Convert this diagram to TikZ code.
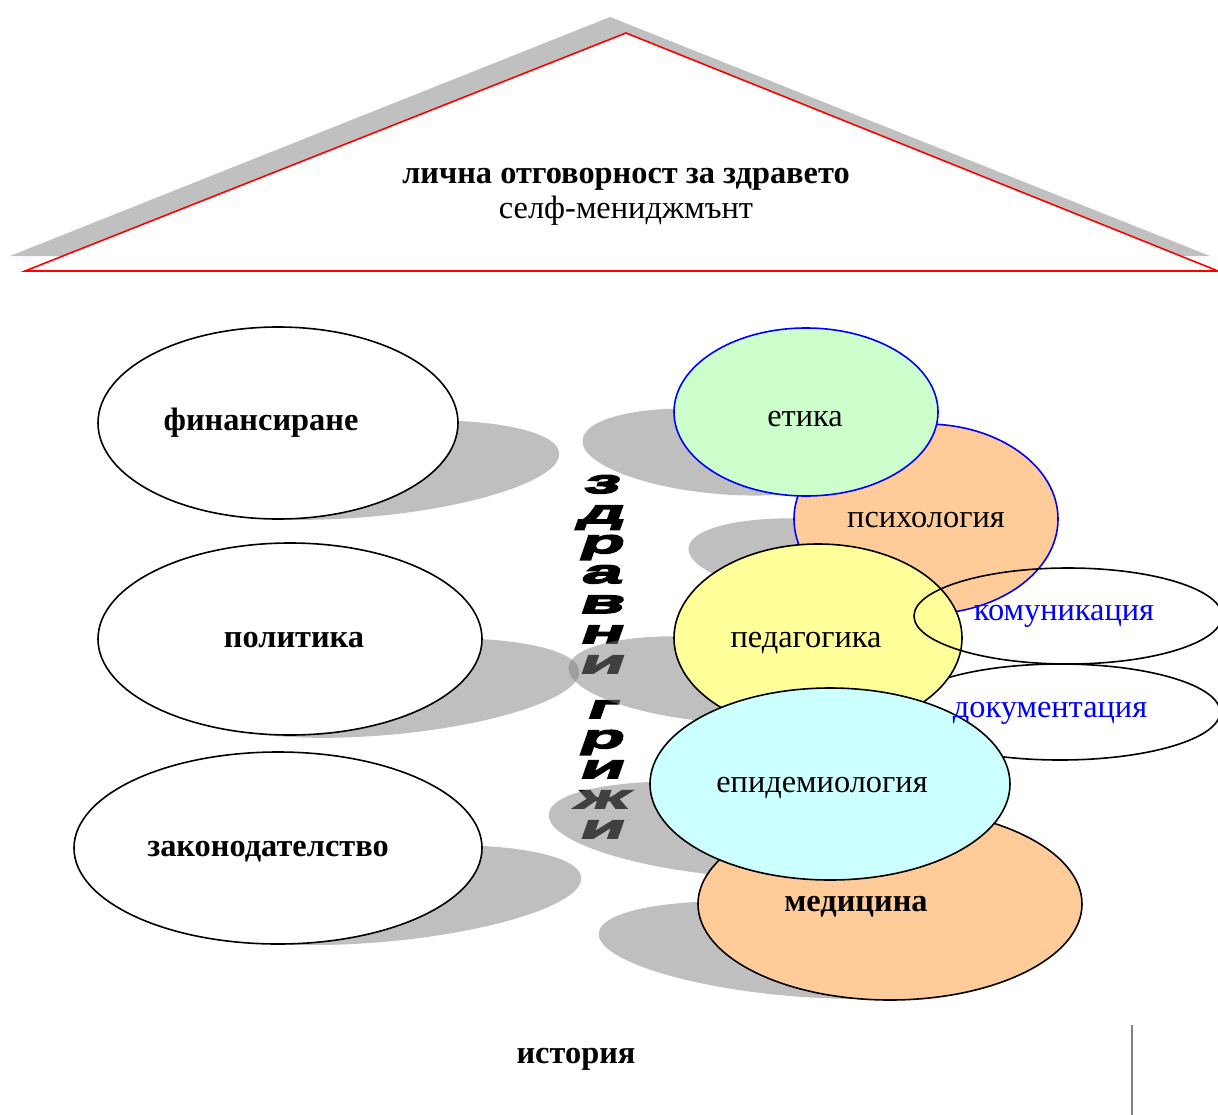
\documentclass[tikz,border=0pt]{standalone}
\usepackage{fontspec}
\setmainfont{Liberation Serif}
\newfontfamily\wordart[FakeStretch=2.2,FakeSlant=0.35,FakeBold=5]{Liberation Sans Bold}
\usetikzlibrary{shapes.geometric}
\definecolor{etikagreen}{HTML}{CCFFCC}
\definecolor{psyorange}{HTML}{FFCC99}
\definecolor{pedyellow}{HTML}{FFFF99}
\definecolor{epicyan}{HTML}{CCFFFF}
\definecolor{roofgray}{HTML}{C0C0C0}

\begin{document}
\begin{tikzpicture}[x=1bp,y=-1bp,
	oval/.style={ellipse,draw,line width=1.6bp,inner sep=0pt},
	shadowoval/.style={ellipse,fill=black!50,fill opacity=0.5,inner sep=0pt},
	lbl/.style={anchor=base,font=\fontsize{32.5}{38}\selectfont},
	blbl/.style={anchor=base,font=\fontsize{32.5}{38}\selectfont\bfseries},
	artchar/.style={anchor=base,inner sep=0pt,font=\wordart\fontsize{33}{33}\selectfont}]
	\useasboundingbox (0,0) rectangle (1218,1115);
	% roof
	\fill[roofgray] (10,256) -- (610,17) -- (1210,256) -- cycle;
	\draw[red,fill=white,line width=1.6bp] (25,271) -- (626,33) -- (1218,271) -- cycle;
	\node[blbl] (roofA) at (626,183) {лична отговорност за здравето};
	\node[lbl] (roofB) at (626,218) {селф-мениджмънт};
	% vertical word art
	\node[artchar] (z1) at (600,493) {з};
	\node[artchar] (z2) at (600,523) {д};
	\node[artchar] (z3) at (600,553) {р};
	\node[artchar] (z4) at (600,583) {а};
	\node[artchar] (z5) at (600,613) {в};
	\node[artchar] (z6) at (600,643) {н};
	\node[artchar] (z7) at (600,673) {и};
	\node[artchar] (g1) at (600,718) {г};
	\node[artchar] (g2) at (600,748) {р};
	\node[artchar] (g3) at (600,778) {и};
	\node[artchar] (g4) at (600,808) {ж};
	\node[artchar] (g5) at (600,838) {и};
	% shadows
	\node[shadowoval,minimum width=390bp,minimum height=94bp,rotate=5] (finS) at (365,470) {};
	\node[shadowoval,minimum width=390bp,minimum height=94bp,rotate=5] (polS) at (385,688) {};
	\node[shadowoval,minimum width=404bp,minimum height=94bp,rotate=5] (zakS) at (380,895) {};
	\node[shadowoval,minimum width=276bp,minimum height=84bp,rotate=-5] (etS) at (720,452) {};
	\node[shadowoval,minimum width=276bp,minimum height=80bp,rotate=-5] (psyS) at (826,560) {};
	\node[shadowoval,minimum width=294bp,minimum height=84bp,rotate=-5] (pedS) at (715,680) {};
	\node[shadowoval,minimum width=364bp,minimum height=92bp,rotate=-5] (epiS) at (730,830) {};
	\node[shadowoval,minimum width=388bp,minimum height=92bp,rotate=-5] (medS) at (792,950) {};
	% left ovals
	\node[oval,fill=white,minimum width=360bp,minimum height=192bp] (fin) at (278,423) {};
	\node[oval,fill=white,minimum width=384bp,minimum height=192bp] (pol) at (290,639) {};
	\node[oval,fill=white,minimum width=408bp,minimum height=192bp] (zak) at (278,848) {};
	\node[blbl] (finT) at (261,430) {финансиране};
	\node[blbl] (polT) at (294,647) {политика};
	\node[blbl] (zakT) at (268,856) {законодателство};
	% right cluster
	\node[oval,fill=psyorange,minimum width=384bp,minimum height=192bp] (med) at (890,904) {};
	\node[oval,minimum width=320bp,minimum height=96bp] (doc) at (1060,712) {};
	\node[oval,draw=blue,fill=psyorange,minimum width=264bp,minimum height=190bp] (psy) at (926,519) {};
	\node[oval,draw=blue,fill=etikagreen,minimum width=264bp,minimum height=168bp] (et) at (806,412) {};
	\node[oval,fill=pedyellow,minimum width=288bp,minimum height=188bp] (ped) at (818,638) {};
	\node[oval,fill=epicyan,minimum width=360bp,minimum height=192bp] (epi) at (830,784) {};
	\node[oval,minimum width=308bp,minimum height=96bp] (kom) at (1068,616) {};
	\node[blbl] (medT) at (856,911) {медицина};
	\node[lbl,blue] (docT) at (1050,717) {документация};
	\node[lbl] (psyT) at (926,527) {психология};
	\node[lbl] (etT) at (805,426) {етика};
	\node[lbl] (pedT) at (806,647) {педагогика};
	\node[lbl] (epiT) at (822,792) {епидемиология};
	\node[lbl,blue] (komT) at (1064,620) {комуникация};
	% bottom
	\node[blbl] (ist) at (576,1063) {история};
	\coordinate (barTop) at (1132,1025);
	\coordinate (barBot) at (1132,1115);
	\draw[gray,line width=1.2bp] (barTop) -- (barBot);
\end{tikzpicture}
\end{document}
